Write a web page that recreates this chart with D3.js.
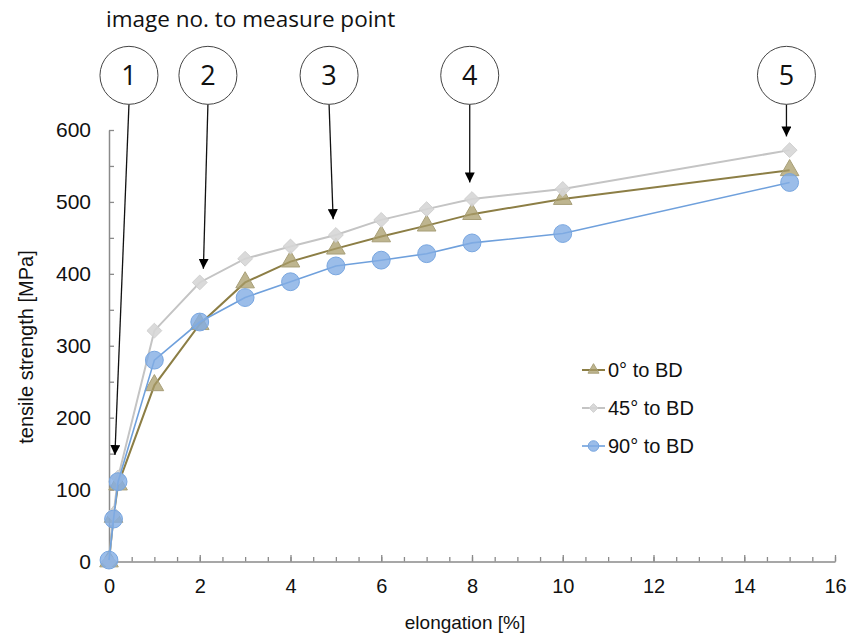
<!DOCTYPE html>
<html>
<head>
<meta charset="utf-8">
<script src="https://cdn.jsdelivr.net/npm/d3@7"></script>
<style>
  body { margin: 0; background: #fff; }
  text { fill: #111; }
</style>
</head>
<body>
<div id="chart"></div>
<script>
// elongation [%] for each measurement
let elongation = [0, 0.1, 0.2, 1, 2, 3, 4, 5, 6, 7, 8, 10, 15]
// tensile strength [MPa] per orientation
let deg0 = [0, 62, 107, 245, 330, 388, 417, 435, 452, 467, 483, 504, 544]
let deg45 = [0, 66, 117, 321, 388, 421, 438, 454, 475, 490, 504, 518, 572]
let deg90 = [2, 59, 111, 280, 333, 367, 389, 411, 419, 428, 443, 456, 527]

let seriesNames = ['0° to BD', '45° to BD', '90° to BD']

// "image no." callouts: circle position and arrow tip in data units
let imageNo = [1, 2, 3, 4, 5]
let calloutX = [0.44, 2.18, 4.85, 7.95, 14.93]
let calloutY = 676
let tipX = [0.13, 2.08, 4.94, 7.95, 14.93]
let tipY = [148, 407, 476, 527, 591]

let xTicks = [0, 2, 4, 6, 8, 10, 12, 14, 16]
let yTicks = [0, 100, 200, 300, 400, 500, 600]

let width = 861
let height = 634

let sans = "'Liberation Sans', Arial, sans-serif"
let calibri = "'Open Sans', sans-serif"

let svg = d3
  .select('#chart')
  .append('svg')
  .attr('width', width)
  .attr('height', height)

let xScale = d3.scaleLinear().domain([0, 16]).range([109, 835])
let yScale = d3.scaleLinear().domain([0, 600]).range([561.5, 130])

let axisColor = '#8a8a8a'

// minor ticks
svg
  .append('g')
  .attr('transform', `translate(0,${yScale(0)})`)
  .call(
    d3.axisBottom(xScale)
      .tickValues(d3.range(0, 16.01, 0.5))
      .tickSizeInner(-4.5)
      .tickSizeOuter(0)
      .tickFormat('')
  )
  .call(g => g.selectAll('line').attr('stroke', axisColor).attr('stroke-width', 1.3))
  .call(g => g.select('.domain').attr('stroke', axisColor).attr('stroke-width', 1.5))

svg
  .append('g')
  .attr('transform', `translate(0,${yScale(0)})`)
  .call(
    d3.axisBottom(xScale)
      .tickValues(xTicks)
      .tickSizeInner(-6.5)
      .tickSizeOuter(0)
      .tickPadding(17)
  )
  .call(g => g.select('.domain').remove())
  .call(g => g.selectAll('line').attr('stroke', axisColor).attr('stroke-width', 1.3))
  .call(g => g.selectAll('text').attr('font-size', 20).style('font-family', sans))

svg
  .append('g')
  .attr('transform', `translate(${xScale(0)},0)`)
  .call(
    d3.axisLeft(yScale)
      .tickValues(d3.range(0, 601, 50))
      .tickSizeInner(-5)
      .tickSizeOuter(0)
      .tickPadding(18)
      .tickFormat(d => (yTicks.includes(d) ? d : ''))
  )
  .call(g => g.select('.domain').attr('stroke', axisColor).attr('stroke-width', 1.5))
  .call(g => g.selectAll('line').attr('stroke', axisColor).attr('stroke-width', 1.3))
  .call(g => g.selectAll('text').attr('font-size', 21).style('font-family', sans))

// axis titles
svg
  .append('text')
  .attr('x', 465)
  .attr('y', 629)
  .attr('text-anchor', 'middle')
  .attr('font-size', 19)
  .style('font-family', sans)
  .text('elongation [%]')

svg
  .append('text')
  .attr('transform', 'translate(33,347) rotate(-90)')
  .attr('text-anchor', 'middle')
  .attr('font-size', 20)
  .style('font-family', sans)
  .text('tensile strength [MPa]')

// series
let series = [
  { name: seriesNames[0], values: deg0, line: '#8c7e45', lw: 2, fill: 'rgba(168,156,106,0.75)', stroke: '#a89f78', shape: d3.symbolTriangle, size: 150 },
  { name: seriesNames[1], values: deg45, line: '#c4c4c4', lw: 2, fill: 'rgba(214,214,214,0.9)', stroke: '#d0d0d0', shape: d3.symbolDiamond2, size: 140 },
  { name: seriesNames[2], values: deg90, line: '#6fa0dc', lw: 1.6, fill: 'rgba(130,172,228,0.8)', stroke: '#78a6e0', shape: d3.symbolCircle, size: 250 }
]

let line = d3.line()
  .x(d => xScale(d[0]))
  .y(d => yScale(d[1]))

series.forEach(s => {
  let pts = elongation.map((x, i) => [x, s.values[i]])

  svg
    .append('path')
    .datum(pts)
    .attr('d', line)
    .attr('fill', 'none')
    .attr('stroke', s.line)
    .attr('stroke-width', s.lw)

  svg
    .append('g')
    .selectAll('path')
    .data(pts)
    .enter()
    .append('path')
    .attr('d', d3.symbol().type(s.shape).size(s.size))
    .attr('transform', d => `translate(${xScale(d[0])},${yScale(d[1])})`)
    .attr('fill', s.fill)
    .attr('stroke', s.stroke)
    .attr('stroke-width', 1)
})

// legend
let legendY = [370, 408, 446]
series.forEach((s, i) => {
  let g = svg.append('g').attr('transform', `translate(582,${legendY[i]})`)
  g.append('line')
    .attr('x1', 0)
    .attr('x2', 23)
    .attr('stroke', s.line)
    .attr('stroke-width', s.lw)
  g.append('path')
    .attr('d', d3.symbol().type(s.shape).size(s.size * 0.35))
    .attr('transform', 'translate(11.5,0)')
    .attr('fill', s.fill)
    .attr('stroke', s.stroke)
  g.append('text')
    .attr('x', 26)
    .attr('y', 7)
    .attr('font-size', 20)
    .style('font-family', sans)
    .text(s.name)
})

// callouts
svg
  .append('defs')
  .append('marker')
  .attr('id', 'arrow')
  .attr('viewBox', '0 0 10 10')
  .attr('refX', 10)
  .attr('refY', 5)
  .attr('markerWidth', 10)
  .attr('markerHeight', 10)
  .attr('markerUnits', 'userSpaceOnUse')
  .attr('orient', 'auto')
  .append('path')
  .attr('d', 'M0,0L10,5L0,10Z')
  .attr('fill', '#000')

let r = 29

svg
  .append('text')
  .attr('x', 106)
  .attr('y', 27)
  .attr('font-size', 22.5)
  .style('font-family', calibri)
  .text('image no. to measure point')

imageNo.forEach((n, i) => {
  let cx = xScale(calloutX[i])
  let cy = yScale(calloutY)

  svg
    .append('line')
    .attr('x1', cx)
    .attr('y1', cy + r)
    .attr('x2', xScale(tipX[i]))
    .attr('y2', yScale(tipY[i]))
    .attr('stroke', '#111')
    .attr('stroke-width', 1.3)
    .attr('marker-end', 'url(#arrow)')

  svg
    .append('circle')
    .attr('cx', cx)
    .attr('cy', cy)
    .attr('r', r)
    .attr('fill', '#fff')
    .attr('stroke', '#444')
    .attr('stroke-width', 1)

  svg
    .append('text')
    .attr('x', cx)
    .attr('y', cy + 10)
    .attr('text-anchor', 'middle')
    .attr('font-size', 27)
    .style('font-family', calibri)
    .text(n)
})
</script>
</body>
</html>
